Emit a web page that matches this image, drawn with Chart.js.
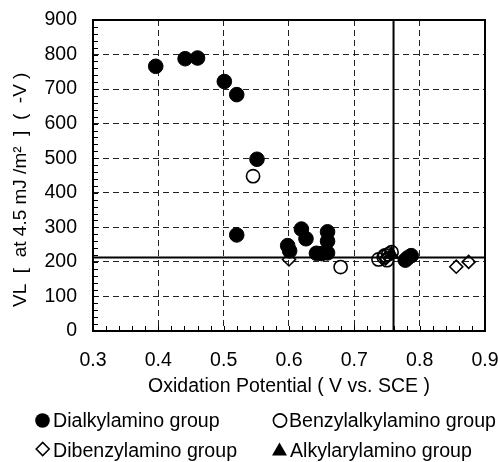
<!DOCTYPE html>
<html><head><meta charset="utf-8">
<script src="https://cdn.jsdelivr.net/npm/chart.js@4"></script>
<style>
html,body{margin:0;padding:0;background:#fff;}
#wrap{position:relative;width:500px;height:462px;overflow:hidden;font-family:"Liberation Sans",Arial,sans-serif;}
#c{position:absolute;left:0;top:0;}
.lg{position:absolute;font-size:19.6px;line-height:22px;color:#000;white-space:nowrap;}
#mk{position:absolute;left:0;top:0;}
</style></head><body>
<div id="wrap">
<canvas id="c" width="500" height="462"></canvas>
<svg id="mk" width="500" height="462">
  <circle cx="42.5" cy="420.5" r="7.3" fill="#000"/>
  <circle cx="280" cy="420.5" r="6.6" fill="none" stroke="#000" stroke-width="1.6"/>
  <polygon points="36.2,449 42.7,442.5 49.2,449 42.7,455.5" fill="#fff" stroke="#000" stroke-width="1.6"/>
  <polygon points="272,455.5 287,455.5 279.5,442.5" fill="#000"/>
</svg>
</div>
<script>
// ---- data ----
const seriesNames = ["Dialkylamino group", "Benzylalkylamino group", "Dibenzylamino group", "Alkylarylamino group"];

const dialkylX = [0.396, 0.441, 0.460, 0.501, 0.520, 0.551, 0.520, 0.598, 0.601, 0.619, 0.626, 0.659, 0.659, 0.642, 0.650, 0.659, 0.778, 0.782, 0.787];
const dialkylY = [766, 788, 790, 722, 684, 497, 278, 247, 232, 295, 267, 287, 260, 225, 224, 226, 205, 212, 218];

const benzylX = [0.545, 0.679, 0.737, 0.745, 0.747, 0.750, 0.752, 0.757];
const benzylY = [448, 185, 207, 214, 219, 205, 222, 228];

const dibenzylX = [0.600, 0.748, 0.856, 0.875];
const dibenzylY = [207, 210, 186, 200];

const alkylarylX = [0.757];
const alkylarylY = [222];

const refHorizontalY = 213;
const refVerticalX = 0.76;

const xTickVals = [0.3, 0.4, 0.5, 0.6, 0.7, 0.8, 0.9];
const xTickLabels = ["0.3", "0.4", "0.5", "0.6", "0.7", "0.8", "0.9"];
const yTickVals = [0, 100, 200, 300, 400, 500, 600, 700, 800, 900];
const yTickLabels = ["0", "100", "200", "300", "400", "500", "600", "700", "800", "900"];

const xTitle = "Oxidation Potential ( V vs. SCE )";
const yTitle = "VL  [  at 4.5 mJ /m\u00B2  ]  (  -V )\u2003\u2002";

// ---- legend text ----
const legendPos = [[53, 409], [289, 409], [53, 438.5], [290, 438.5]];
seriesNames.forEach((n, i) => {
  const d = document.createElement('div');
  d.className = 'lg';
  d.style.left = legendPos[i][0] + 'px';
  d.style.top = legendPos[i][1] + 'px';
  d.textContent = n;
  document.getElementById('wrap').appendChild(d);
});

const zip = (xs, ys) => xs.map((x, i) => ({x: x, y: ys[i]}));
const FONT = "'Liberation Sans', Arial, sans-serif";
const FS = 19.5;

const framePlugin = {
  id: 'frame',
  beforeDatasetsDraw(chart) {
    const {ctx, chartArea: a, scales} = chart;
    ctx.save();
    ctx.strokeStyle = '#000';
    ctx.lineWidth = 1;
    ctx.beginPath();
    for (let v = 0; v <= 900; v += 20) {
      const py = Math.round(scales.y.getPixelForValue(v)) + 0.5;
      ctx.moveTo(a.left, py); ctx.lineTo(a.left + 5, py);
    }
    for (let k = 0; k <= 30; k++) {
      const v = 0.3 + k * 0.02;
      const px = Math.round(scales.x.getPixelForValue(v)) + 0.5;
      ctx.moveTo(px, a.bottom); ctx.lineTo(px, a.bottom - 5);
    }
    ctx.stroke();
    ctx.lineWidth = 2;
    ctx.strokeRect(a.left, a.top, a.right - a.left, a.bottom - a.top);
    ctx.restore();
  }
};

new Chart(document.getElementById('c'), {
  type: 'scatter',
  data: {
    datasets: [
      {label: seriesNames[0], data: zip(dialkylX, dialkylY), pointStyle: 'circle', pointRadius: 7.3,
       backgroundColor: '#000', borderColor: '#000', borderWidth: 1},
      {label: seriesNames[1], data: zip(benzylX, benzylY), pointStyle: 'circle', pointRadius: 6.6,
       backgroundColor: 'rgba(0,0,0,0)', borderColor: '#000', borderWidth: 1.6},
      {label: seriesNames[2], data: zip(dibenzylX, dibenzylY), pointStyle: 'rectRot', pointRadius: 6.5,
       backgroundColor: 'rgba(255,255,255,0)', borderColor: '#000', borderWidth: 1.6},
      {label: seriesNames[3], data: zip(alkylarylX, alkylarylY), pointStyle: 'triangle', pointRadius: 8,
       backgroundColor: '#000', borderColor: '#000', borderWidth: 1},
      {label: 'h', data: [{x: xTickVals[0], y: refHorizontalY}, {x: xTickVals[xTickVals.length - 1], y: refHorizontalY}],
       showLine: true, pointRadius: 0, borderColor: '#000', borderWidth: 2, backgroundColor: '#000'},
      {label: 'v', data: [{x: refVerticalX, y: yTickVals[0]}, {x: refVerticalX, y: yTickVals[yTickVals.length - 1]}],
       showLine: true, pointRadius: 0, borderColor: '#000', borderWidth: 2, backgroundColor: '#000'}
    ]
  },
  options: {
    responsive: false,
    animation: false,
    devicePixelRatio: 1,
    events: [],
    layout: {padding: {top: 20, right: 15, bottom: 61, left: 0}},
    plugins: {legend: {display: false}, tooltip: {enabled: false}},
    scales: {
      x: {
        type: 'linear', min: 0.3, max: 0.9,
        afterBuildTicks: s => { s.ticks = xTickVals.map(v => ({value: v})); },
        afterFit: s => { s.height = 70; s.paddingLeft = 0; s.paddingRight = 0; },
        ticks: {padding: 18, color: '#000', font: {size: FS, family: FONT},
                callback: (v, i) => xTickLabels[i]},
        grid: {color: '#222', lineWidth: 1, drawTicks: false},
        border: {display: false, dash: [6, 4]},
        title: {display: true, text: xTitle, color: '#000', font: {size: FS, family: FONT},
                padding: {top: 0, bottom: 3}}
      },
      y: {
        type: 'linear', min: 0, max: 900,
        afterBuildTicks: s => { s.ticks = yTickVals.map(v => ({value: v})); },
        afterFit: s => { s.width = 93; s.paddingTop = 0; s.paddingBottom = 0; },
        ticks: {padding: 16, color: '#000', font: {size: FS, family: FONT},
                callback: (v, i) => yTickLabels[i]},
        grid: {color: '#222', lineWidth: 1, drawTicks: false},
        border: {display: false, dash: [6, 4]},
        title: {display: true, text: yTitle, color: '#000', font: {size: 19, family: FONT},
                padding: {top: 9, bottom: 0}}
      }
    }
  },
  plugins: [framePlugin]
});
</script>
</body></html>
